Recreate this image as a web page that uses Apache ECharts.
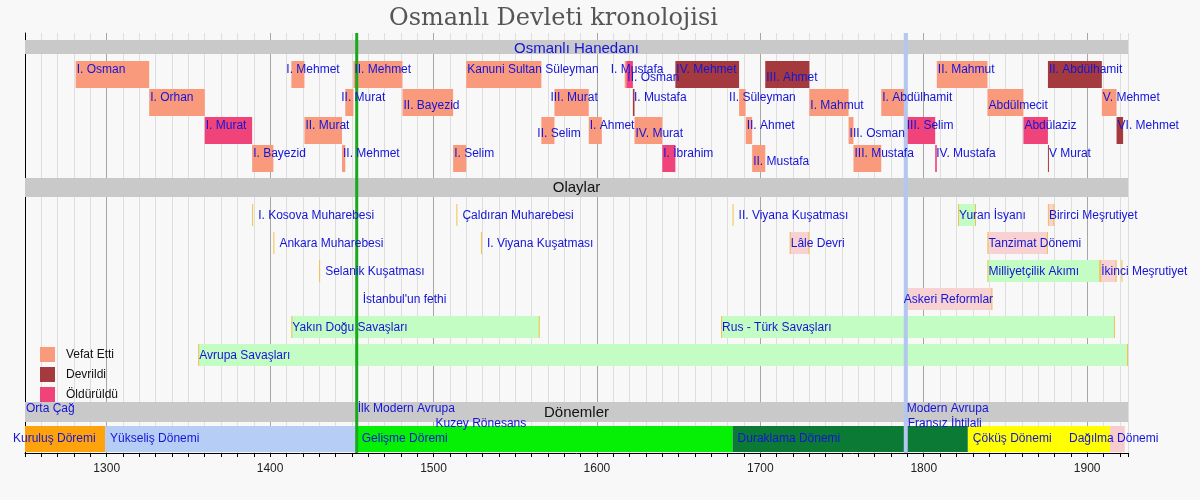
<!DOCTYPE html>
<html lang="tr">
<head>
<meta charset="UTF-8">
<title>Osmanlı Devleti kronolojisi</title>
<script src="https://cdn.jsdelivr.net/npm/echarts@6.0.0/dist/echarts.min.js"></script>
<style>
    html, body { margin: 0; padding: 0; background: #f8f8f8; }
    #main { width: 1200px; height: 500px; }
</style>
</head>
<body>
<div id="main"></div>
<script>
// ---- veri ----
var yearMin = 1250, yearMax = 1925;
var majorYears = [1300, 1400, 1500, 1600, 1700, 1800, 1900];
var lanes = ['hanedan', 's1', 's2', 's3', 's4', 'olaylar', 'e1', 'e2', 'e3', 'e4', 'e5', 'e6', 'bos', 'donemler', 'donem'];

// padişahlar: [ad, başlangıç, bitiş, satır]
var vefatEtti = [
    ['I. Osman', 1281, 1326, 1],
    ['I. Orhan', 1326, 1360, 2],
    ['I. Bayezid', 1389, 1402, 4],
    ['I. Mehmet', 1413, 1421, 1],
    ['II. Murat', 1421, 1444, 3],
    ['II. Mehmet', 1444, 1446, 4],
    ['II. Murat', 1446, 1451, 2],
    ['II. Mehmet', 1451, 1481, 1],
    ['II. Bayezid', 1481, 1512, 2],
    ['I. Selim', 1512, 1520, 4],
    ['Kanuni Sultan Süleyman', 1520, 1566, 1],
    ['II. Selim', 1566, 1574, 3],
    ['III. Murat', 1574, 1595, 2],
    ['I. Ahmet', 1595, 1603, 3],
    ['I. Mustafa', 1617, 1618, 1],
    ['IV. Murat', 1623, 1640, 3],
    ['II. Süleyman', 1687, 1691, 2],
    ['II. Ahmet', 1691, 1695, 3],
    ['II. Mustafa', 1695, 1703, 4],
    ['I. Mahmut', 1730, 1754, 2],
    ['III. Osman', 1754, 1757, 3],
    ['III. Mustafa', 1757, 1774, 4],
    ['I. Abdülhamit', 1774, 1789, 2],
    ['II. Mahmut', 1808, 1839, 1],
    ['Abdülmecit', 1839, 1861, 2],
    ['V. Mehmet', 1909, 1918, 2]
];
var devrildi = [
    ['I. Mustafa', 1622, 1623, 2],
    ['IV. Mehmet', 1648, 1687, 1],
    ['III. Ahmet', 1703, 1730, 1],
    ['II. Abdülhamit', 1876, 1909, 1],
    ['V Murat', 1876, 1876.6, 4],
    ['VI. Mehmet', 1918, 1922, 3]
];
var olduruldu = [
    ['I. Murat', 1360, 1389, 3],
    ['II. Osman', 1618, 1622, 1],
    ['I. İbrahim', 1640, 1648, 4],
    ['III. Selim', 1789, 1807, 3],
    ['IV. Mustafa', 1807, 1808, 4],
    ['Abdülaziz', 1861, 1876, 3]
];

// olaylar
var battles = [   // [ad, yıl, satır]
    ['I. Kosova Muharebesi', 1389, 6],
    ['Çaldıran Muharebesi', 1514, 6],
    ['II. Viyana Kuşatması', 1683, 6],
    ['Ankara Muharebesi', 1402, 7],
    ['I. Viyana Kuşatması', 1529, 7],
    ['Selanik Kuşatması', 1430, 8],
    ['', 1921, 8],
    ['İstanbul\'un fethi', 1453, 9]
];
var wars = [      // [ad, başlangıç, bitiş, satır]
    ['Yuran İsyanı', 1821, 1832, 6],
    ['Milliyetçilik Akımı', 1839, 1908, 8],
    ['Yakın Doğu Savaşları', 1413, 1565, 10],
    ['Rus - Türk Savaşları', 1676, 1917, 10],
    ['Avrupa Savaşları', 1356, 1925, 11]
];
var reforms = [
    ['Birirci Meşrutiyet', 1876, 1880, 6],
    ['Lâle Devri', 1718, 1730, 7],
    ['Tanzimat Dönemi', 1839, 1876, 7],
    ['İkinci Meşrutiyet', 1908, 1918, 8],
    ['Askeri Reformlar', 1789, 1842, 9]
];

// dönemler
var sections = [['Osmanlı Hanedanı', 0], ['Olaylar', 5], ['Dönemler', 13]];
var eras = [['Orta Çağ', 1250], ['İlk Modern Avrupa', 1453], ['Modern Avrupa', 1789]];
var periods = [
    ['Kuruluş Döremi', 1250, 1299],
    ['Yükseliş Dönemi', 1299, 1453],
    ['Gelişme Döremi', 1453, 1683],
    ['Duraklama Dönemi', 1683, 1827],
    ['Çöküş Dönemi', 1827, 1914],
    ['Dağılma Dönemi', 1914, 1923]
];
var periodNotes = [['Kuzey Rönesans', 1500], ['Fransız İhtilali', 1789]];
var markYears = [1453, 1789];

// ---- görünüm ----
var FONT = '"Liberation Sans", Arial, sans-serif';
var BLUE = '#1414d8';
var fateColors = { 'Vefat Etti': '#fa9a7c', 'Devrildi': '#a53a3e', 'Öldürüldü': '#f0437a' };
var periodColors = {
    'Kuruluş Döremi': '#ffa30c', 'Yükseliş Dönemi': '#b6cdf6', 'Gelişme Döremi': '#05f005',
    'Duraklama Dönemi': '#0b7a34', 'Çöküş Dönemi': '#ffff00', 'Dağılma Dönemi': '#f7cccc'
};
var markColors = ['#1ca81c', '#b3c7ef'];
var markWidths = [3, 4];
var lowLabels = ['II. Bayezid', 'II. Selim', 'II. Osman', 'IV. Murat', 'II. Mustafa', 'III. Ahmet', 'I. Mahmut', 'III. Osman', 'Abdülmecit'];
var labelShift = {
    'I. Mehmet@1413': -6, 'II. Murat@1446': -5, 'II. Selim@1566': -5, 'III. Murat@1574': -5,
    'I. Mustafa@1617': -15, 'II. Süleyman@1687': -11,
    'Kuruluş Döremi@1250': -17, 'Dağılma Dönemi@1914': -46, 'Askeri Reformlar@1789': -3
};
var sectionBox = { 0: [7, 14], 5: [5, 19], 13: [5, 20] };   // üst boşluk, yükseklik

// tüm yazılar
var labels = [];
function addLabel(text, year, lane, dx, dy, color, size, align) {
    labels.push({ text: text, year: year, lane: lane, dx: dx + (labelShift[text + '@' + year] || 0), dy: dy,
        color: color, font: size + 'px ' + FONT, align: align || 'left' });
}
[vefatEtti, devrildi, olduruldu].forEach(function (list) {
    list.forEach(function (d) {
        addLabel(d[0], d[1], d[3], 1, lowLabels.indexOf(d[0]) >= 0 ? 17 : 9, BLUE, 12);
    });
});
battles.forEach(function (d) { if (d[0]) addLabel(d[0], d[1], d[2], 6, 15, BLUE, 12); });
wars.concat(reforms).forEach(function (d) { addLabel(d[0], d[1], d[3], 1, 15, BLUE, 12); });
sections.forEach(function (s, i) {
    var b = sectionBox[s[1]];
    addLabel(s[0], (yearMin + yearMax) / 2, s[1], 0, b[0] + b[1] / 2 + (i === 0 ? 1.5 : 0.5), i === 0 ? BLUE : '#111', 15, 'center');
});
eras.forEach(function (e) { addLabel(e[0], e[1], 13, 1, 12, BLUE, 12); });
periods.forEach(function (p) { addLabel(p[0], p[1], 14, 5, 14, BLUE, 12); });
periodNotes.forEach(function (n) { addLabel(n[0], n[1], 14, 2, -1, BLUE, 12); });

// olay kutuları
var eventItems = [];
battles.forEach(function (d) { eventItems.push({ s: d[1], e: d[1], lane: d[2], fill: null }); });
wars.forEach(function (d) { eventItems.push({ s: d[1], e: d[2], lane: d[3], fill: '#c3fdc3' }); });
reforms.forEach(function (d) { eventItems.push({ s: d[1], e: d[2], lane: d[3], fill: '#f8d2d2' }); });

function bandTop(api, year, lane) {
    var p = api.coord([year, lane]);
    return [p[0], p[1] - api.size([0, 1])[1] / 2];
}

function sultanItem(params, api) {
    var a = bandTop(api, api.value(0), api.value(2));
    var b = bandTop(api, api.value(1), api.value(2));
    var band = api.size([0, 1])[1];
    return { type: 'rect', shape: { x: a[0], y: a[1], width: Math.max(b[0] - a[0], 1), height: band - 1 },
        style: { fill: api.visual('color') } };
}

function sultanSeries(name, list) {
    return {
        name: name, type: 'custom', z: 3, renderItem: sultanItem,
        itemStyle: { color: fateColors[name] },
        encode: { x: [0, 1], y: 2 },
        data: list.map(function (d) { return [d[1], d[2], d[3]]; })
    };
}

var myChart = echarts.init(document.getElementById('main'));
var splitColors = [];
for (var i = 0; i < 10; i++) splitColors.push(i === 5 ? '#a6a6a6' : '#dedede');

var option = {
    backgroundColor: '#f8f8f8',
    animation: false,
    title: {
        text: 'Osmanlı Devleti kronolojisi', left: 384, top: 2,
        textStyle: { fontFamily: '"DejaVu Serif", serif', fontSize: 24, fontWeight: 'normal', color: '#555' }
    },
    legend: {
        orient: 'vertical', left: 40, top: 347, padding: 0, itemWidth: 15, itemHeight: 15, itemGap: 5,
        icon: 'rect', selectedMode: false,
        data: ['Vefat Etti', 'Devrildi', 'Öldürüldü'],
        textStyle: { color: '#111', fontSize: 12, fontFamily: FONT, padding: [0, 0, 0, 6] }
    },
    grid: { left: 25, right: 72, top: 33, bottom: 47 },
    xAxis: {
        type: 'value', min: yearMin, max: yearMax, interval: 10,
        axisLine: { show: true, onZero: false, lineStyle: { color: '#000' } },
        axisTick: { show: true, length: 4, lineStyle: { color: '#000' } },
        axisLabel: {
            margin: 10, color: '#222', fontSize: 12, fontFamily: FONT,
            formatter: function (v) { return majorYears.indexOf(v) >= 0 ? String(v) : ''; }
        },
        splitLine: { show: true, lineStyle: { color: splitColors, width: 1 } }
    },
    yAxis: {
        type: 'category', data: lanes, inverse: true,
        axisLine: { show: true, lineStyle: { color: '#000' } },
        axisTick: { show: false }, axisLabel: { show: false }, splitLine: { show: false }
    },
    series: [
        {
            name: 'bolumler', type: 'custom', z: 1,
            encode: { x: 0, y: 1 },
            data: sections.map(function (s) { return [yearMin, s[1]]; }),
            renderItem: function (params, api) {
                var lane = api.value(1);
                var a = bandTop(api, yearMin, lane);
                var b = bandTop(api, yearMax, lane);
                var box = sectionBox[lane];
                return { type: 'rect', shape: { x: a[0], y: a[1] + box[0], width: b[0] - a[0], height: box[1] },
                    style: { fill: '#c9c9c9' } };
            }
        },
        {
            name: 'olaylar', type: 'custom', z: 2,
            encode: { x: [0, 1], y: 2 },
            data: eventItems.map(function (d) { return [d.s, d.e, d.lane]; }),
            renderItem: function (params, api) {
                var d = eventItems[params.dataIndex];
                var a = bandTop(api, d.s, d.lane);
                var b = bandTop(api, d.e, d.lane);
                var y0 = a[1] + 3, h = 22;
                var edge = { stroke: '#f2c14e', lineWidth: 1 };
                var kids = [];
                if (d.fill) {
                    kids.push({ type: 'rect', shape: { x: a[0], y: y0, width: b[0] - a[0], height: h }, style: { fill: d.fill } });
                    kids.push({ type: 'line', shape: { x1: b[0] - 0.5, y1: y0, x2: b[0] - 0.5, y2: y0 + h }, style: edge });
                }
                kids.push({ type: 'line', shape: { x1: a[0] + 0.5, y1: y0, x2: a[0] + 0.5, y2: y0 + h }, style: edge });
                return { type: 'group', children: kids };
            }
        },
        {
            name: 'donemler', type: 'custom', z: 2,
            encode: { x: [0, 1], y: 2 },
            data: periods.map(function (p) { return [p[1], p[2], 14]; }),
            renderItem: function (params, api) {
                var a = bandTop(api, api.value(0), 14);
                var b = bandTop(api, api.value(1), 14);
                return { type: 'rect', shape: { x: a[0], y: a[1] + 1, width: b[0] - a[0], height: 26 },
                    style: { fill: periodColors[periods[params.dataIndex][0]] } };
            }
        },
        sultanSeries('Vefat Etti', vefatEtti),
        sultanSeries('Devrildi', devrildi),
        sultanSeries('Öldürüldü', olduruldu),
        {
            name: 'cizgiler', type: 'custom', z: 5, silent: true,
            encode: { x: 0, y: 1 },
            data: markYears.map(function (y) { return [y, 0]; }),
            renderItem: function (params, api) {
                var top = bandTop(api, api.value(0), 0);
                var bottom = bandTop(api, api.value(0), 14);
                var band = api.size([0, 1])[1];
                return { type: 'line', shape: { x1: top[0], y1: top[1], x2: top[0], y2: bottom[1] + band },
                    style: { stroke: markColors[params.dataIndex], lineWidth: markWidths[params.dataIndex] } };
            }
        },
        {
            name: 'yazilar', type: 'custom', z: 10, silent: true,
            encode: { x: 0, y: 1 },
            data: labels.map(function (l) { return [l.year, l.lane]; }),
            renderItem: function (params, api) {
                var l = labels[params.dataIndex];
                var a = bandTop(api, l.year, l.lane);
                return { type: 'text', style: { x: a[0] + l.dx, y: a[1] + l.dy, text: l.text, fill: l.color,
                    font: l.font, align: l.align, verticalAlign: 'middle' } };
            }
        }
    ]
};

if (option && typeof option === "object") {
    myChart.setOption(option, true);
}
</script>
</body>
</html>
